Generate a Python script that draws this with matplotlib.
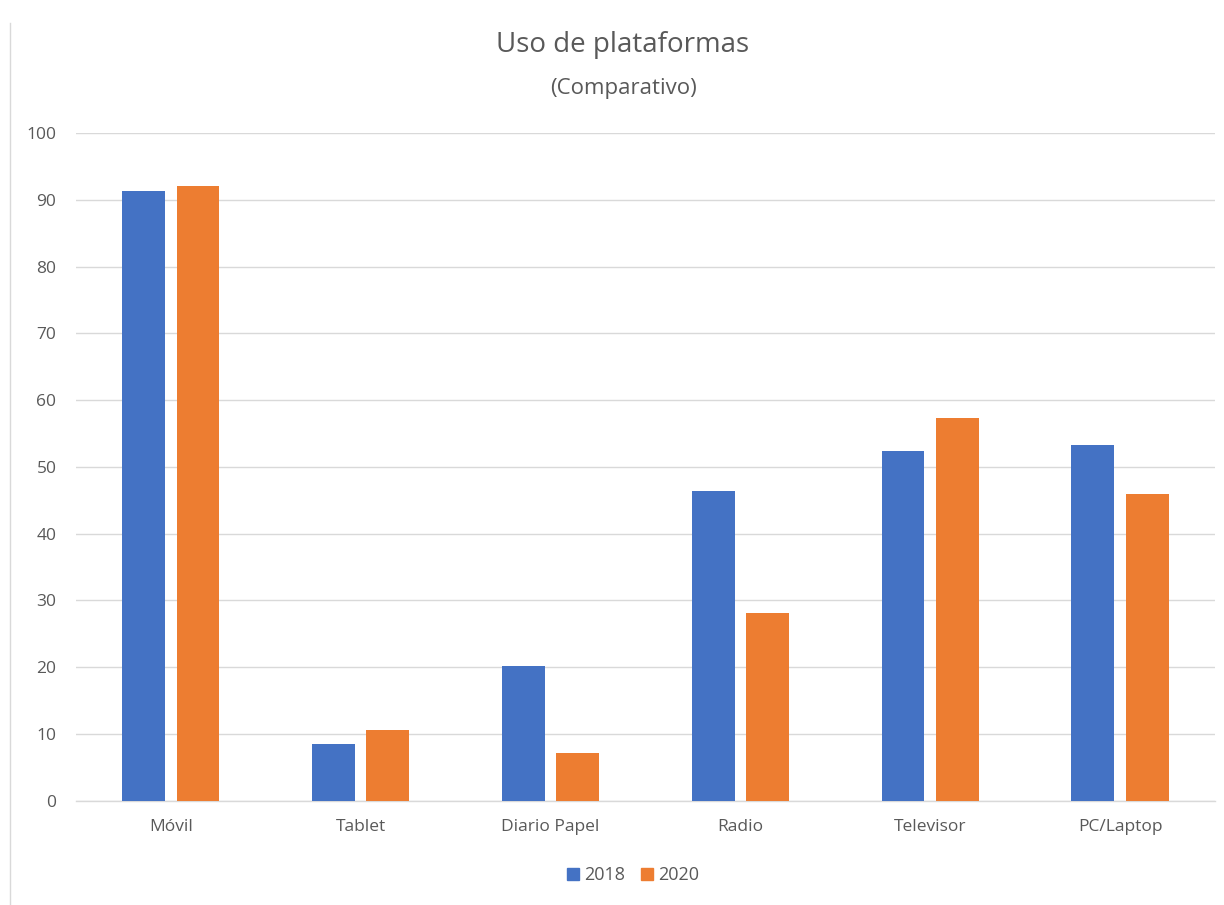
import matplotlib.pyplot as plt
import numpy as np
from matplotlib.lines import Line2D

# datos
categorias = ["Móvil", "Tablet", "Diario Papel", "Radio", "Televisor", "PC/Laptop"]
valores_2018 = [91.3, 8.5, 20.2, 46.4, 52.4, 53.3]
valores_2020 = [92.1, 10.6, 7.1, 28.1, 57.3, 45.9]
series = ["2018", "2020"]

AZUL = "#4472c4"
NARANJA = "#ed7d31"
GRIS_TEXTO = "#595959"
GRIS_LINEA = "#d9d9d9"

plt.rcParams["font.family"] = ["Open Sans", "DejaVu Sans"]

fig = plt.figure(figsize=(12.24, 9.05), dpi=100)
ax = fig.add_axes([0.062, 0.1152, 0.9306, 0.7378])

x = np.arange(len(categorias))
ancho = 0.226
sep = 0.143
ax.bar(x - sep, valores_2018, ancho, color=AZUL, label=series[0], zorder=3)
ax.bar(x + sep, valores_2020, ancho, color=NARANJA, label=series[1], zorder=3)

ax.set_xlim(-0.5, len(categorias) - 0.5)
ax.set_ylim(0, 100)
ax.set_yticks(range(0, 101, 10))
ax.set_xticks(x)
ax.set_xticklabels(categorias)
ax.tick_params(axis="both", length=0, labelsize=12.5, colors=GRIS_TEXTO)
ax.tick_params(axis="y", pad=14)
ax.tick_params(axis="x", pad=13)

ax.grid(axis="y", color=GRIS_LINEA, linewidth=1, zorder=0)
for lado in ["top", "right", "left"]:
    ax.spines[lado].set_visible(False)
ax.spines["bottom"].set_color(GRIS_LINEA)
ax.spines["bottom"].set_linewidth(1)

fig.text(0.509, 0.95, "Uso de plataformas", ha="center", va="center",
         fontsize=20, color=GRIS_TEXTO)
fig.text(0.509, 0.902, "(Comparativo)", ha="center", va="center",
         fontsize=16, color=GRIS_TEXTO)

# leyenda
marcas = [Line2D([0], [0], marker="s", linestyle="", markersize=8, color=c)
          for c in (AZUL, NARANJA)]
fig.legend(marcas, series, loc="center", bbox_to_anchor=(0.516, 0.033),
           ncol=2, frameon=False, fontsize=13, labelcolor=GRIS_TEXTO,
           handletextpad=0.15, columnspacing=0.7, handlelength=1.0)

# borde izquierdo del área del gráfico
fig.add_artist(Line2D([0.008, 0.008], [0.0, 0.975], color=GRIS_LINEA,
                      linewidth=1, transform=fig.transFigure))

fig.savefig("out.png", dpi=100, facecolor="white")
